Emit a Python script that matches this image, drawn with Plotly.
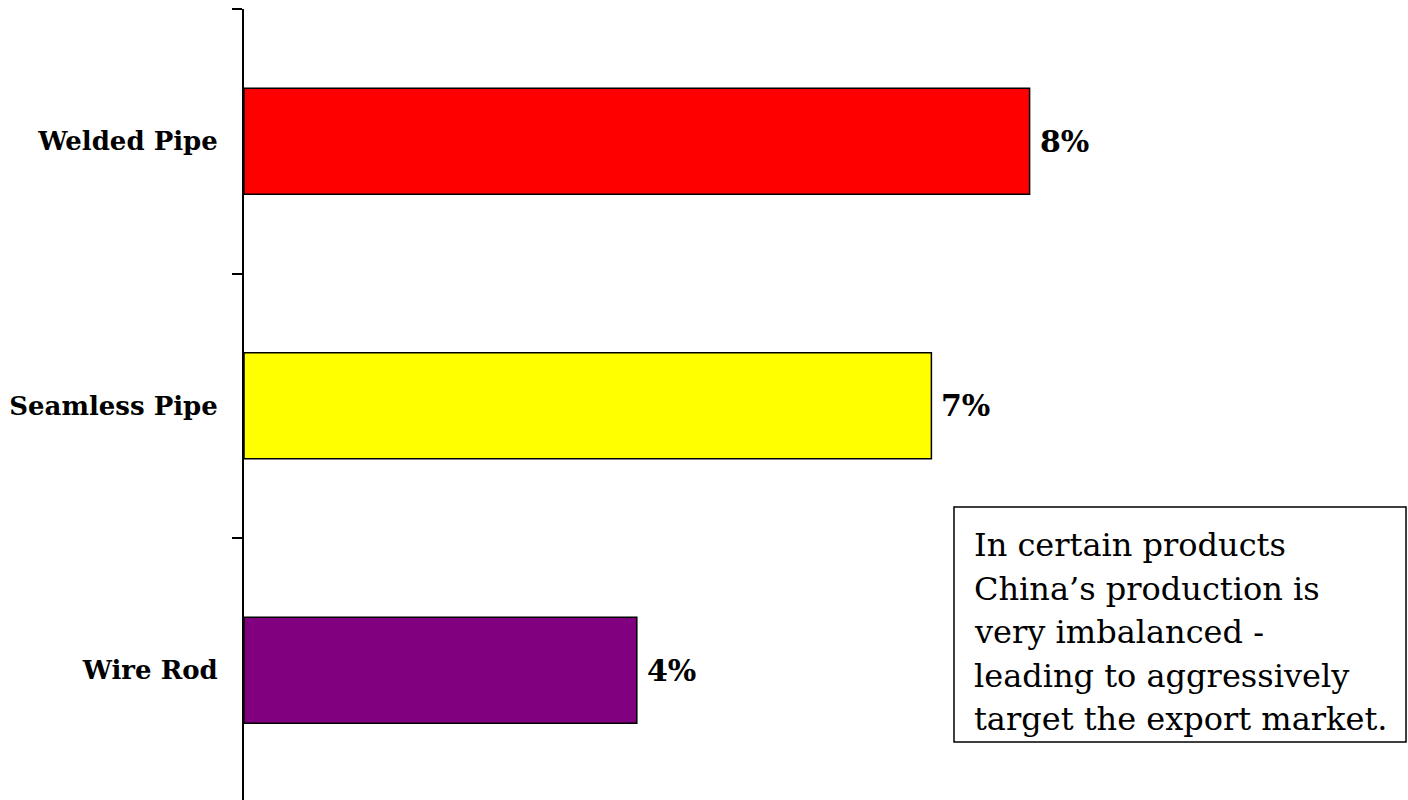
import plotly.graph_objects as go

# Product categories, top to bottom, with their shares (%)
products = ["Welded Pipe", "Seamless Pipe", "Wire Rod"]
shares = [8, 7, 4]
bar_colors = ["#FF0000", "#FFFF00", "#800080"]
note_lines = [
    "In certain products",
    "China\u2019s production is",
    "very imbalanced -",
    "leading to aggressively",
    "target the export market.",
]

FONT = "DejaVu Serif, Liberation Serif, serif"

W, H = 1408, 800
ML, MR, MT, MB = 244, 0, 9, 0
PW, PH = W - ML - MR, H - MT - MB
PX_PER_UNIT = 98.2


def px_x(px):
    return (px - ML) / PW


def px_y(py):
    return (H - MB - py) / PH


fig = go.Figure(
    go.Bar(
        x=shares,
        y=products,
        orientation="h",
        width=0.4,
        marker=dict(color=bar_colors, line=dict(color="black", width=1.5)),
        hoverinfo="skip",
    )
)

# value labels just right of each bar
for p, v in zip(products, shares):
    fig.add_annotation(
        x=v, y=p, xref="x", yref="y",
        text=f"<b>{v}%</b>", showarrow=False,
        xanchor="left", yanchor="middle", xshift=8,
        font=dict(family=FONT, size=30, color="black"),
    )

# boxed note
fig.add_shape(
    type="rect", xref="paper", yref="paper",
    x0=px_x(954), x1=px_x(1406), y0=px_y(742), y1=px_y(507),
    line=dict(color="black", width=1.5), fillcolor="white", layer="above",
)
for i, line in enumerate(note_lines):
    fig.add_annotation(
        xref="paper", yref="paper", x=px_x(972), y=px_y(545 + i * 43.5),
        xanchor="left", yanchor="middle", align="left", showarrow=False,
        text=line,
        font=dict(family=FONT, size=32, color="black"),
    )

fig.update_layout(
    width=W, height=H,
    margin=dict(l=ML, r=MR, t=MT, b=MB),
    plot_bgcolor="white", paper_bgcolor="white",
    showlegend=False,
    bargap=0.6,
    xaxis=dict(visible=False, range=[0, PW / PX_PER_UNIT]),
    yaxis=dict(
        type="category",
        categoryorder="array", categoryarray=products,
        range=[-0.5 + PH / 264.5, -0.5],
        showline=True, linecolor="black", linewidth=2,
        ticks="outside", ticklen=10, tickwidth=2, tickcolor="black",
        tickson="boundaries", showgrid=False, zeroline=False,
        tickfont=dict(family=FONT, size=26, color="black"),
        ticklabelstandoff=19,
    ),
)
fig.update_yaxes(tickprefix="<b>", ticksuffix="</b>")

fig.write_html("out.html")
